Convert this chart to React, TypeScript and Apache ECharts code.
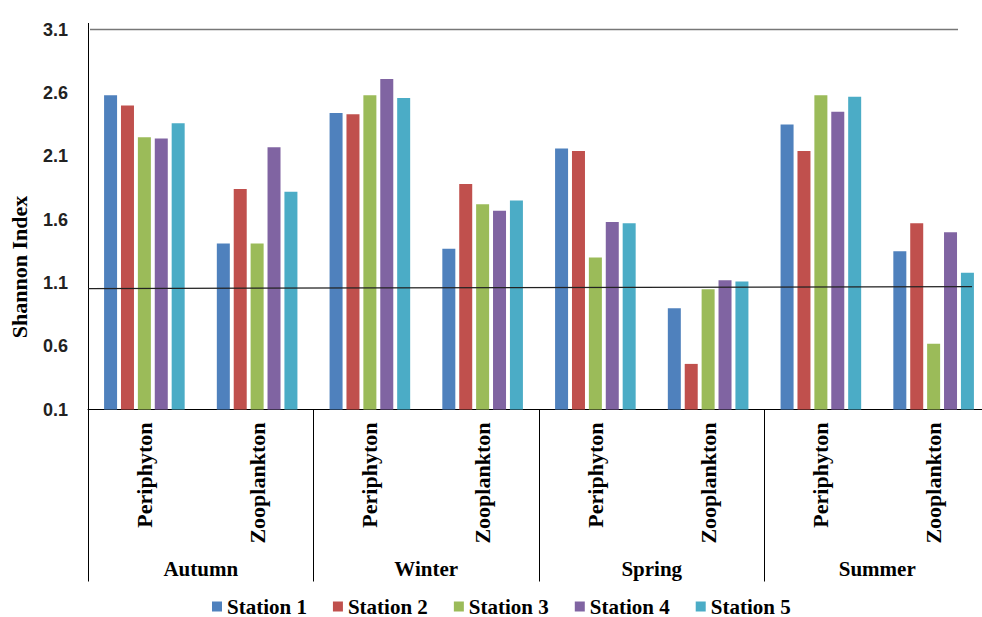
import React, { useEffect, useRef } from "react";
import * as echarts from "echarts";

const subCategories = ["Periphyton", "Zooplankton", "Periphyton", "Zooplankton", "Periphyton", "Zooplankton", "Periphyton", "Zooplankton"];
const seasons = ["Autumn", "Winter", "Spring", "Summer"];
const stationNames = ["Station 1", "Station 2", "Station 3", "Station 4", "Station 5"];
const station1 = [2.58, 1.41, 2.44, 1.37, 2.16, 0.9, 2.35, 1.35];
const station2 = [2.5, 1.84, 2.43, 1.88, 2.14, 0.46, 2.14, 1.57];
const station3 = [2.25, 1.41, 2.58, 1.72, 1.3, 1.05, 2.58, 0.62];
const station4 = [2.24, 2.17, 2.71, 1.67, 1.58, 1.12, 2.45, 1.5];
const station5 = [2.36, 1.82, 2.56, 1.75, 1.57, 1.11, 2.57, 1.18];
const stationColors = ["#4F81BD", "#C0504D", "#9BBB59", "#8064A2", "#4BACC6"];
const yMin = 0.1;
const yMax = 3.1;
const yStep = 0.5;
const refTop = 3.1;
const refLineLeft = 1.055;
const refLineRight = 1.07;

const serif = "'Liberation Serif', 'Times New Roman', serif";

export default function App() {
  const ref = useRef<HTMLDivElement>(null);
  useEffect(() => {
    if (!ref.current) return;
    const chart = echarts.init(ref.current, null, { renderer: "svg" });
    const allData = [station1, station2, station3, station4, station5];
    chart.setOption({
      animation: false,
      backgroundColor: "#ffffff",
      grid: { left: 88, top: 29.5, width: 902, height: 380, containLabel: false },
      legend: {
        data: stationNames,
        left: 207,
        top: 591,
        icon: "rect",
        itemWidth: 10,
        itemHeight: 10,
        itemGap: 26,
        textStyle: { fontFamily: serif, fontWeight: "bold", fontSize: 21, color: "#000" },
      },
      xAxis: [
        {
          type: "category",
          position: "bottom",
          data: subCategories,
          axisLine: { show: true, lineStyle: { color: "#000", width: 1 } },
          axisTick: { show: false },
          axisLabel: {
            rotate: 90,
            margin: 13,
            interval: 0,
            fontFamily: serif,
            fontWeight: "bold",
            fontSize: 22,
            color: "#000",
          },
        },
        {
          type: "category",
          position: "bottom",
          data: seasons,
          axisLine: { show: false },
          axisTick: { show: true, length: 172, interval: 0, lineStyle: { color: "#000", width: 1 } },
          axisLabel: {
            margin: 149,
            interval: 0,
            fontFamily: serif,
            fontWeight: "bold",
            fontSize: 21,
            color: "#000",
          },
        },
      ],
      yAxis: {
        type: "value",
        min: yMin,
        max: yMax,
        interval: yStep,
        axisLine: { show: true, lineStyle: { color: "#000", width: 1 } },
        axisTick: { show: false },
        splitLine: { show: false },
        axisLabel: {
          margin: 20,
          formatter: (v: number) => v.toFixed(1),
          fontFamily: "'Liberation Sans', Arial, sans-serif",
          fontWeight: "bold",
          fontSize: 18,
          color: "#222",
        },
      },
      series: allData.map((d, i) => ({
        name: stationNames[i],
        type: "bar",
        data: d,
        barWidth: 13,
        barGap: "30%",
        itemStyle: { color: stationColors[i] },
      })),
    });

    const yTop = chart.convertToPixel({ yAxisIndex: 0 }, refTop) as number;
    const yL = chart.convertToPixel({ yAxisIndex: 0 }, refLineLeft) as number;
    const yR = chart.convertToPixel({ yAxisIndex: 0 }, refLineRight) as number;
    chart.setOption({
      graphic: [
        {
          type: "line",
          shape: { x1: 90, y1: yTop, x2: 958, y2: yTop },
          style: { stroke: "#777", lineWidth: 1.5 },
          z: 10,
        },
        {
          type: "line",
          shape: { x1: 88, y1: yL, x2: 972, y2: yR },
          style: { stroke: "#222", lineWidth: 1.2 },
          z: 10,
        },
        {
          type: "line",
          shape: { x1: 88.5, y1: 23, x2: 88.5, y2: yTop },
          style: { stroke: "#000", lineWidth: 1 },
        },
        {
          type: "text",
          x: 19,
          y: 267,
          rotation: Math.PI / 2,
          style: {
            text: "Shannon Index",
            fontFamily: serif,
            fontWeight: "bold",
            fontSize: 22,
            fill: "#000",
            align: "center",
            verticalAlign: "middle",
          },
        },
      ],
    });
    return () => chart.dispose();
  }, []);
  return (
    <div style={{ position: "absolute", left: 0, top: 0, width: 982, height: 617, overflow: "hidden", background: "#fff" }}>
      <div ref={ref} style={{ width: 1000, height: 617 }} />
    </div>
  );
}
